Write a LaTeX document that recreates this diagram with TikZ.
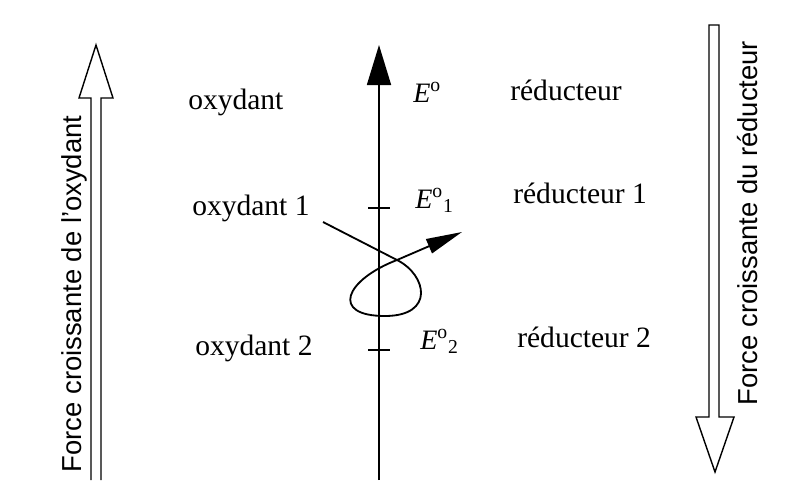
\documentclass[tikz,border=0pt]{standalone}
\usepackage{fontspec}
\setmainfont{Liberation Serif}
\setsansfont{Liberation Sans}
\usepackage{tikz}
\usetikzlibrary{arrows.meta, positioning}

\begin{document}
\begin{tikzpicture}[
  x=0.025cm, y=-0.025cm,
  species/.style={anchor=base west, inner sep=0pt, font=\fontsize{21}{24}\selectfont},
  potential/.style={anchor=base west, inner sep=0pt, font=\fontsize{20}{24}\selectfont},
  force/.style={rotate=90, inner sep=0pt, font=\sffamily\fontsize{19.5}{22}\selectfont},
  hollow/.style={draw, line width=1pt, line join=miter},
  axis/.style={-{Triangle[length=10mm, width=6mm]}, line width=1.2pt},
  turn/.style={-{Triangle[length=9mm, width=3.8mm]}, line width=1.3pt, line join=round}
]
\useasboundingbox (0,0) rectangle (786,480);

% Nodes
\node[species] (ox) at (188,109) {oxydant};
\node[potential] (e0) at (413,102) {\textit{E}\textsuperscript{o}};
\node[species] (red) at (510,100) {réducteur};
\node[species] (ox1) at (192,215) {oxydant 1};
\node[potential] (e1) at (415,208) {\textit{E}\textsuperscript{o}\textsubscript{1}};
\node[species] (red1) at (513,203) {réducteur 1};
\node[species] (ox2) at (195,355) {oxydant 2};
\node[potential] (e2) at (420,349) {\textit{E}\textsuperscript{o}\textsubscript{2}};
\node[species] (red2) at (517,347) {réducteur 2};
\node[force] (fox) at (74,294) {Force croissante de l'oxydant};
\node[force] (fred) at (748,223) {Force croissante du réducteur};

% Axis
\coordinate (axisbot) at (379,480);
\coordinate (axistop) at (379,45);
\coordinate (tick1) at (379,208);
\coordinate (tick2) at (379,350);
\draw[axis] (axisbot) -- (axistop);
\draw[line width=1.2pt] (tick1) +(-11,0) -- +(11,0);
\draw[line width=1.2pt] (tick2) +(-11,0) -- +(11,0);

% Loop
\coordinate (start) at (323,222);
\coordinate (cross) at (397,260);
\coordinate (bottom) at (385,316);
\coordinate (tip) at (462,232);
\draw[turn] (start) -- (cross)
  .. controls (427,275) and (435,316) .. (bottom)
  .. controls (330,316) and (345,280) .. (cross) -- (tip);

% Arrows
\draw[hollow] (91,480) -- (91,98) -- (79,98) -- (96,45) -- (113,98) -- (101,98) -- (101,480);
\draw[hollow] (709,25) -- (709,417) -- (696,417) -- (715,472) -- (734,417) -- (719,417) -- (719,25) -- cycle;

\end{tikzpicture}
\end{document}
